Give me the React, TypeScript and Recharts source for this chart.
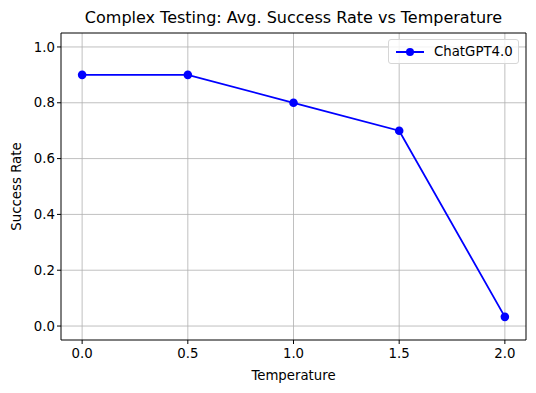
import React from 'react';
import {
  LineChart,
  Line,
  XAxis,
  YAxis,
  CartesianGrid,
  ReferenceArea,
} from 'recharts';

const temperatures = [0.0, 0.5, 1.0, 1.5, 2.0];
const successRates = [0.9, 0.9, 0.8, 0.7, 0.033];
const xTicks = [0, 0.5, 1, 1.5, 2];
const yTicks = [0, 0.2, 0.4, 0.6, 0.8, 1.0];
const seriesName = 'ChatGPT4.0';

const FONT = '"DejaVu Sans", sans-serif';

function LegendBox() {
  return (
    <div
      style={{
        position: 'absolute',
        left: 388,
        top: 39,
        width: 131,
        height: 25,
        boxSizing: 'border-box',
        border: '1px solid #d6d6d6',
        borderRadius: 3,
        background: 'rgba(255,255,255,0.8)',
        display: 'flex',
        alignItems: 'center',
        fontFamily: FONT,
        fontSize: 13.3,
        color: '#000',
      }}
    >
      <svg width={40} height={12} style={{ marginLeft: 5 }}>
        <line x1={2} y1={6} x2={30} y2={6} stroke="#0000ff" strokeWidth={2} />
        <circle cx={16} cy={6} r={4} fill="#0000ff" />
      </svg>
      <span>{seriesName}</span>
    </div>
  );
}

export default function App() {
  const data = temperatures.map((t, i) => ({ t, rate: successRates[i] }));

  return (
    <div style={{ position: 'absolute', left: 0, top: 0, width: 536, height: 393, background: '#fff' }}>
      <div
        style={{
          position: 'absolute',
          left: 61,
          width: 465,
          top: 8,
          textAlign: 'center',
          fontFamily: FONT,
          fontSize: 16,
          color: '#000',
        }}
      >
        Complex Testing: Avg. Success Rate vs Temperature
      </div>
      <LineChart
        width={536}
        height={393}
        data={data}
        margin={{ top: 33, right: 10, bottom: 0, left: 0 }}
        style={{ fontFamily: FONT }}
      >
        <CartesianGrid stroke="#b0b0b0" strokeWidth={0.8} horizontalValues={yTicks} verticalValues={xTicks} />
        <XAxis
          dataKey="t"
          type="number"
          domain={[-0.1, 2.1]}
          ticks={xTicks}
          tickFormatter={(v: number) => v.toFixed(1)}
          axisLine={false}
          tickLine={{ stroke: '#000' }}
          tickSize={4}
          tick={{ fill: '#000', fontSize: 13.3, dy: 3 }}
          height={53}
          label={{ value: 'Temperature', position: 'insideTop', offset: 31, fill: '#000', fontSize: 13.3 }}
        />
        <YAxis
          type="number"
          domain={[-0.05, 1.05]}
          ticks={yTicks}
          tickFormatter={(v: number) => v.toFixed(1)}
          axisLine={false}
          tickLine={{ stroke: '#000' }}
          tickSize={4}
          tick={{ fill: '#000', fontSize: 13.3 }}
          width={61}
          label={{
            value: 'Success Rate',
            angle: -90,
            position: 'insideLeft',
            offset: 16,
            fill: '#000',
            fontSize: 13.3,
            style: { textAnchor: 'middle' },
          }}
        />
        <ReferenceArea
          x1={-0.1}
          x2={2.1}
          y1={-0.05}
          y2={1.05}
          fill="none"
          stroke="#000"
          strokeWidth={1}
          fillOpacity={0}
          ifOverflow="visible"
        />
        <Line
          dataKey="rate"
          name={seriesName}
          stroke="#0000ff"
          strokeWidth={1.8}
          dot={{ r: 4.3, fill: '#0000ff', stroke: '#0000ff', strokeWidth: 0 }}
          activeDot={false}
          isAnimationActive={false}
        />
      </LineChart>
      <LegendBox />
    </div>
  );
}
